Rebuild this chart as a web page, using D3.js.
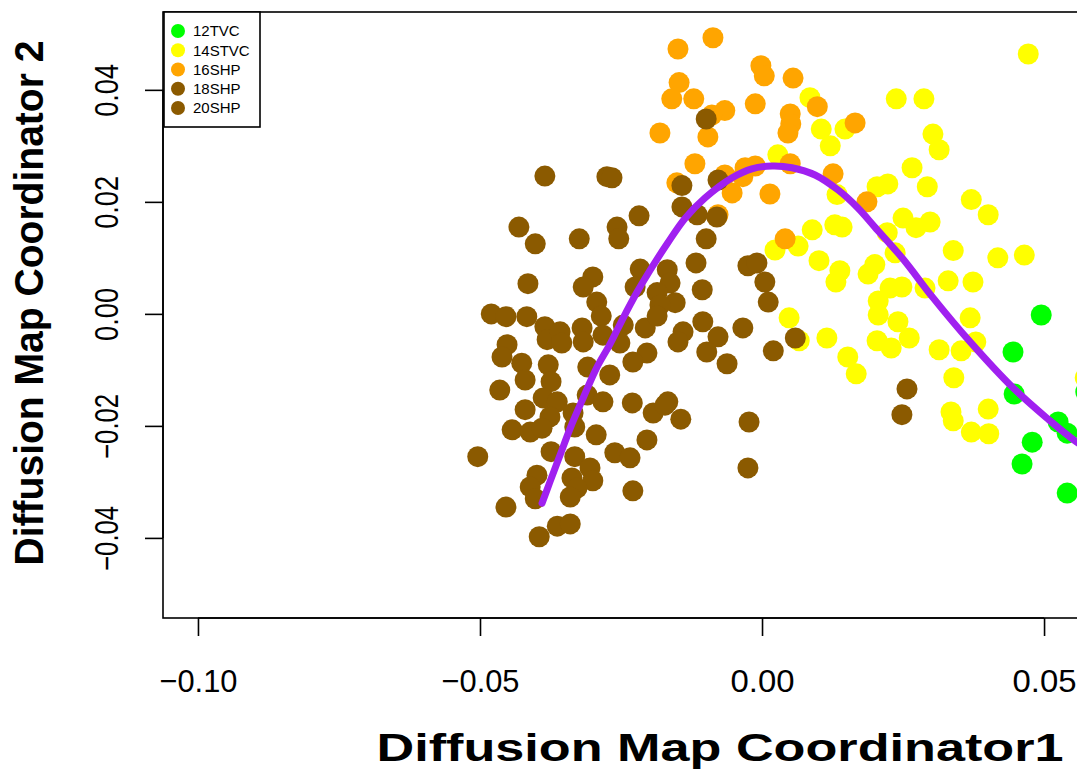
<!DOCTYPE html>
<html>
<head>
<meta charset="utf-8">
<script src="https://cdn.jsdelivr.net/npm/d3@7"></script>
<style>
  body { margin: 0; background: #fff; }
  text { font-family: "Liberation Sans", Arial, sans-serif; }
</style>
</head>
<body>
<div id="chart"></div>
<script>
// groups, colours and points [x, y]
const groups = ['12TVC', '14STVC', '16SHP', '18SHP', '20SHP'];
const colors = ['#00FF00', '#FFFF00', '#FFA500', '#8B5A00', '#8B5A00'];

const tvc12 = [
  [0.0495,-0.0002],[0.0445,-0.0068],[0.0447,-0.0143],[0.0525,-0.0193],[0.0541,-0.0213],
  [0.0479,-0.0229],[0.0461,-0.0268],[0.0541,-0.0320],[0.0574,-0.0139],[0.0578,-0.0186],
  [0.0578,-0.0445]
];

const stvc14 = [
  [0.0472,0.0464],[0.0238,0.0384],[0.0287,0.0384],[0.0085,0.0386],[0.0105,0.0330],
  [0.0147,0.0330],[0.0121,0.0300],[0.0028,0.0284],[0.0303,0.0321],[0.0314,0.0293],
  [0.0266,0.0261],[0.0204,0.0227],[0.0223,0.0232],[0.0293,0.0227],[0.0133,0.0213],
  [0.0371,0.0204],[0.0401,0.0177],[0.0250,0.0171],[0.0273,0.0154],[0.0298,0.0164],
  [0.0089,0.0150],[0.0129,0.0159],[0.0142,0.0155],[0.0222,0.0145],[0.0023,0.0114],
  [0.0064,0.0121],[0.0339,0.0113],[0.0101,0.0095],[0.0138,0.0077],[0.0131,0.0057],
  [0.0188,0.0071],[0.0200,0.0088],[0.0236,0.0109],[0.0418,0.0100],[0.0465,0.0105],
  [0.0227,0.0046],[0.0248,0.0048],[0.0289,0.0046],[0.0206,0.0023],[0.0206,-0.0002],
  [0.0241,-0.0014],[0.0330,0.0059],[0.0374,0.0057],[0.0369,-0.0007],[0.0048,-0.0007],
  [0.0066,-0.0048],[0.0115,-0.0043],[0.0204,-0.0048],[0.0229,-0.0061],[0.0261,-0.0043],
  [0.0314,-0.0064],[0.0353,-0.0066],[0.0379,-0.0050],[0.0152,-0.0077],[0.0167,-0.0107],
  [0.0340,-0.0114],[0.0335,-0.0175],[0.0339,-0.0191],[0.0401,-0.0170],[0.0371,-0.0211],
  [0.0402,-0.0214],[0.0573,-0.0114]
];

const shp16 = [
  [-0.0087,0.0493],[-0.0149,0.0473],[-0.0002,0.0443],[0.0004,0.0425],[0.0055,0.0421],
  [-0.0147,0.0413],[-0.0160,0.0384],[-0.0121,0.0384],[-0.0066,0.0363],[-0.0089,0.0355],
  [-0.0012,0.0375],[0.0050,0.0357],[0.0051,0.0339],[0.0046,0.0323],[0.0098,0.0370],
  [-0.0096,0.0316],[0.0165,0.0341],[-0.0181,0.0323],[-0.0119,0.0268],[-0.0012,0.0264],
  [-0.0030,0.0261],[0.0050,0.0268],[-0.0066,0.0248],[-0.0053,0.0216],[-0.0034,0.0245],
  [-0.0151,0.0234],[0.0014,0.0214],[0.0126,0.0250],[-0.0078,0.0177],[0.0186,0.0200],
  [0.0041,0.0134]
];

const shp18 = [
  [-0.0099,0.0348],[-0.0142,0.0229],[-0.0078,0.0239],[-0.0142,0.0191],[-0.0115,0.0177],
  [-0.0080,0.0173],[-0.0099,0.0134],[-0.0117,0.0091],[-0.0025,0.0086],[-0.0009,0.0091],
  [0.0005,0.0057],[-0.0168,0.0079],[-0.0163,0.0055],[-0.0154,0.0020],[-0.0106,0.0043],
  [-0.0105,-0.0014],[-0.0140,-0.0032],[-0.0149,-0.0050],[-0.0078,-0.0041],[-0.0098,-0.0068],
  [-0.0062,-0.0089],[-0.0034,-0.0025],[0.0011,0.0021],[0.0020,-0.0066],[0.0059,-0.0043],
  [-0.0167,-0.0157],[-0.0144,-0.0188],[-0.0023,-0.0193],[-0.0025,-0.0275],[0.0257,-0.0134],
  [0.0248,-0.0180]
];

const shp20 = [
  [-0.0385,0.0246],[-0.0275,0.0245],[-0.0266,0.0243],[-0.0218,0.0175],[-0.0431,0.0155],
  [-0.0402,0.0125],[-0.0324,0.0134],[-0.0257,0.0155],[-0.0254,0.0134],[-0.0415,0.0054],
  [-0.0300,0.0066],[-0.0317,0.0048],[-0.0216,0.0080],[-0.0225,0.0048],[-0.0293,0.0021],
  [-0.0186,0.0038],[-0.0480,0.0000],[-0.0454,-0.0005],[-0.0417,-0.0005],[-0.0385,-0.0023],
  [-0.0381,-0.0046],[-0.0358,-0.0032],[-0.0355,-0.0052],[-0.0319,-0.0025],[-0.0317,-0.0050],
  [-0.0285,-0.0004],[-0.0282,-0.0038],[-0.0246,-0.0020],[-0.0252,-0.0052],[-0.0207,-0.0025],
  [-0.0204,-0.0070],[-0.0229,-0.0086],[-0.0181,0.0016],[-0.0186,-0.0004],[-0.0452,-0.0055],
  [-0.0461,-0.0077],[-0.0426,-0.0088],[-0.0420,-0.0118],[-0.0379,-0.0091],[-0.0374,-0.0121],
  [-0.0309,-0.0095],[-0.0270,-0.0109],[-0.0465,-0.0136],[-0.0388,-0.0150],[-0.0363,-0.0157],
  [-0.0420,-0.0171],[-0.0376,-0.0184],[-0.0335,-0.0177],[-0.0332,-0.0202],[-0.0310,-0.0145],
  [-0.0282,-0.0157],[-0.0230,-0.0159],[-0.0193,-0.0177],[-0.0172,-0.0163],[-0.0443,-0.0207],
  [-0.0411,-0.0211],[-0.0390,-0.0204],[-0.0294,-0.0216],[-0.0374,-0.0246],[-0.0332,-0.0255],
  [-0.0261,-0.0248],[-0.0234,-0.0257],[-0.0204,-0.0225],[-0.0504,-0.0255],[-0.0399,-0.0288],
  [-0.0411,-0.0309],[-0.0402,-0.0330],[-0.0337,-0.0293],[-0.0305,-0.0275],[-0.0300,-0.0298],
  [-0.0328,-0.0311],[-0.0340,-0.0327],[-0.0229,-0.0316],[-0.0454,-0.0345],[-0.0363,-0.0379],
  [-0.0340,-0.0375],[-0.0395,-0.0398]
];

// fitted curve
const curve = [
  [-0.0390,-0.0338],[-0.0376,-0.0300],[-0.0358,-0.0252],[-0.0340,-0.0204],[-0.0317,-0.0150],
  [-0.0293,-0.0096],[-0.0270,-0.0055],[-0.0246,-0.0007],[-0.0222,0.0038],[-0.0199,0.0077],
  [-0.0167,0.0127],[-0.0137,0.0170],[-0.0101,0.0207],[-0.0053,0.0243],[-0.0018,0.0259],
  [0.0018,0.0264],[0.0053,0.0261],[0.0094,0.0248],[0.0135,0.0221],[0.0170,0.0189],
  [0.0200,0.0155],[0.0250,0.0098],[0.0303,0.0029],[0.0369,-0.0050],[0.0445,-0.0132],
  [0.0505,-0.0186],[0.0558,-0.0229],[0.0635,-0.0279]
];

const xTicks = [-0.10, -0.05, 0.00, 0.05];
const yTicks = [-0.04, -0.02, 0.00, 0.02, 0.04];

const WIDTH = 1077;
const HEIGHT = 771;

const svg = d3.select('#chart').append('svg')
  .attr('width', WIDTH).attr('height', HEIGHT)
  .style('display', 'block');

const x = d3.scaleLinear().domain([-0.1062, 0.0913]).range([163, 1277]);
const y = d3.scaleLinear().domain([-0.0543, 0.0539]).range([618, 12]);

// points, drawn in this order so that browns sit on top
const layers = [
  { data: stvc14, color: colors[1] },
  { data: shp16, color: colors[2] },
  { data: tvc12, color: colors[0] },
  { data: shp18, color: colors[3] },
  { data: shp20, color: colors[4] }
];

layers.forEach(l => {
  svg.append('g').selectAll('circle')
    .data(l.data)
    .enter()
    .append('circle')
    .attr('cx', d => x(d[0]))
    .attr('cy', d => y(d[1]))
    .attr('r', 10.5)
    .attr('fill', l.color);
});

// curve
const line = d3.line().x(d => x(d[0])).y(d => y(d[1])).curve(d3.curveCatmullRom);
svg.append('path')
  .attr('d', line(curve))
  .attr('fill', 'none')
  .attr('stroke', '#A020F0')
  .attr('stroke-width', 7)
  .attr('stroke-linecap', 'round');

// plot box
svg.append('rect')
  .attr('x', x.range()[0]).attr('y', y.range()[1])
  .attr('width', x.range()[1] - x.range()[0])
  .attr('height', y.range()[0] - y.range()[1])
  .attr('fill', 'none').attr('stroke', '#000').attr('stroke-width', 1.6);

const fmt = d3.format('.2f');

// x axis
const xAxis = svg.append('g')
  .attr('transform', `translate(0,${y.range()[0]})`)
  .call(d3.axisBottom(x).tickValues(xTicks).tickSize(18).tickFormat(fmt));
xAxis.select('.domain').remove();
xAxis.append('line')
  .attr('x1', x(xTicks[0])).attr('x2', x(xTicks[xTicks.length - 1]))
  .attr('stroke', '#000').attr('stroke-width', 1.6);
xAxis.selectAll('.tick line').attr('stroke-width', 1.6);
xAxis.selectAll('.tick text')
  .attr('y', 74).attr('dy', null)
  .attr('fill', '#000')
  .style('font-size', '32px')
  .attr('textLength', d => d < 0 ? 78 : 64)
  .attr('lengthAdjust', 'spacingAndGlyphs');

// y axis
const yAxis = svg.append('g')
  .attr('transform', `translate(${x.range()[0]},0)`)
  .call(d3.axisLeft(y).tickValues(yTicks).tickSize(18).tickFormat(fmt));
yAxis.select('.domain').remove();
yAxis.append('line')
  .attr('y1', y(yTicks[0])).attr('y2', y(yTicks[yTicks.length - 1]))
  .attr('stroke', '#000').attr('stroke-width', 1.6);
yAxis.selectAll('.tick line').attr('stroke-width', 1.6);
yAxis.selectAll('.tick text')
  .attr('x', null).attr('dy', null)
  .attr('text-anchor', 'middle')
  .attr('transform', 'translate(-45,0) rotate(-90)')
  .attr('fill', '#000')
  .style('font-size', '33px')
  .attr('textLength', d => d < 0 ? 65 : 53)
  .attr('lengthAdjust', 'spacingAndGlyphs');

// axis titles
svg.append('text')
  .attr('x', 720).attr('y', 761)
  .attr('text-anchor', 'middle')
  .style('font-size', '38px').style('font-weight', 'bold')
  .attr('textLength', 687).attr('lengthAdjust', 'spacingAndGlyphs')
  .text('Diffusion Map Coordinator1');

svg.append('text')
  .attr('transform', 'translate(43,303) rotate(-90)')
  .attr('text-anchor', 'middle')
  .style('font-size', '40px').style('font-weight', 'bold')
  .attr('textLength', 525).attr('lengthAdjust', 'spacingAndGlyphs')
  .text('Diffusion Map Coordinator 2');

// legend
const legend = svg.append('g').attr('transform', 'translate(164,12)');
legend.append('rect')
  .attr('width', 96).attr('height', 115)
  .attr('fill', '#fff').attr('stroke', '#000').attr('stroke-width', 1.6);
legend.selectAll('circle')
  .data(groups)
  .enter()
  .append('circle')
  .attr('cx', 14)
  .attr('cy', (d, i) => 19 + i * 19.25)
  .attr('r', 7)
  .attr('fill', (d, i) => colors[i]);
legend.selectAll('text')
  .data(groups)
  .enter()
  .append('text')
  .attr('x', 29)
  .attr('y', (d, i) => 19 + i * 19.25)
  .attr('dy', '0.36em')
  .style('font-size', '15px')
  .text(d => d);
</script>
</body>
</html>
